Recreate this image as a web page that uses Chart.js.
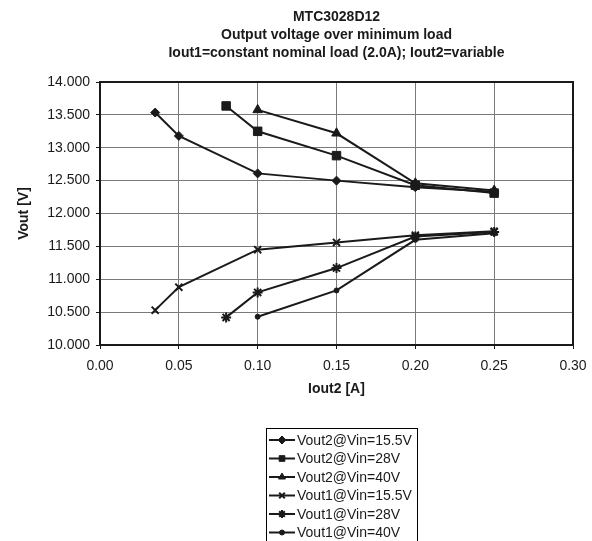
<!DOCTYPE html>
<html>
<head>
<meta charset="utf-8">
<script src="https://cdn.jsdelivr.net/npm/chart.js@4"></script>
<style>
  html, body { margin: 0; padding: 0; background: #fff; }
  #wrap { width: 592px; height: 541px; position: relative; }
</style>
</head>
<body>
<div id="wrap"><canvas id="chart"></canvas></div>
<script>
const titleLines = [
  "MTC3028D12",
  "Output voltage over minimum load",
  "Iout1=constant nominal load (2.0A); Iout2=variable",
];
const xTitle = "Iout2 [A]";
const yTitle = "Vout [V]";

const seriesLabels = [
  "Vout2@Vin=15.5V",
  "Vout2@Vin=28V",
  "Vout2@Vin=40V",
  "Vout1@Vin=15.5V",
  "Vout1@Vin=28V",
  "Vout1@Vin=40V",
];

// Iout2 [A] per series
const iout2 = [
  [0.035, 0.05, 0.10, 0.15, 0.20, 0.25],
  [0.08, 0.10, 0.15, 0.20, 0.25],
  [0.10, 0.15, 0.20, 0.25],
  [0.035, 0.05, 0.10, 0.15, 0.20, 0.25],
  [0.08, 0.10, 0.15, 0.20, 0.25],
  [0.10, 0.15, 0.20, 0.25],
];

// Vout [V] per series
const vout = [
  [13.535, 13.18, 12.61, 12.50, 12.40, 12.33],
  [13.636, 13.25, 12.88, 12.43, 12.31],
  [13.576, 13.22, 12.46, 12.35],
  [10.53, 10.88, 11.45, 11.56, 11.67, 11.73],
  [10.42, 10.80, 11.17, 11.65, 11.72],
  [10.43, 10.83, 11.60, 11.70],
];

const markers = ["rectRot", "rect", "triangle", "crossRot", "star", "circle"];
const markerSizes = [4.5, 6, 5.5, 5, 5, 2.5];

const FONT = "'Liberation Sans', Arial, sans-serif";

const datasets = seriesLabels.map((label, i) => ({
  label,
  data: iout2[i].map((x, j) => ({ x, y: vout[i][j] })),
  showLine: true,
  borderColor: "#1a1a1a",
  backgroundColor: "#1a1a1a",
  borderWidth: 2,
  pointStyle: markers[i],
  pointRadius: markerSizes[i],
  pointBorderWidth: i === 3 || i === 4 ? 2 : 1,
  pointBorderColor: "#1a1a1a",
  pointBackgroundColor: "#1a1a1a",
  tension: 0,
}));

// frame round the plot area (top and right edges too)
const frame = {
  id: "frame",
  beforeDatasetsDraw(chart) {
    const { ctx, chartArea: a } = chart;
    ctx.save();
    ctx.strokeStyle = "#1a1a1a";
    ctx.lineWidth = 2;
    ctx.strokeRect(a.left, a.top, a.right - a.left, a.bottom - a.top);
    ctx.restore();
  },
};

// boxed legend under the chart, line + marker samples
const boxLegend = {
  id: "boxLegend",
  afterDraw(chart) {
    const ctx = chart.ctx;
    const left = 266, top = 428, right = 417, rowH = 18.5;
    ctx.save();
    ctx.strokeStyle = "#000";
    ctx.lineWidth = 1;
    ctx.strokeRect(left + 0.5, top + 0.5, right - left, 130);
    ctx.font = "14px " + FONT;
    ctx.textBaseline = "middle";
    ctx.fillStyle = "#1a1a1a";
    chart.data.datasets.forEach((ds, i) => {
      const y = top + 12 + i * rowH;
      ctx.strokeStyle = ds.borderColor;
      ctx.lineWidth = 2;
      ctx.beginPath();
      ctx.moveTo(269, y);
      ctx.lineTo(295, y);
      ctx.stroke();
      ctx.lineWidth = ds.pointBorderWidth;
      ctx.fillStyle = ds.pointBackgroundColor;
      Chart.helpers.drawPoint(ctx, {
        pointStyle: ds.pointStyle,
        radius: Math.min(ds.pointRadius, 4),
        rotation: 0,
        borderWidth: ds.pointBorderWidth,
      }, 282, y);
      ctx.fillStyle = "#1a1a1a";
      ctx.fillText(ds.label, 297, y + 1);
    });
    ctx.restore();
  },
};

new Chart(document.getElementById("chart"), {
  type: "scatter",
  data: { datasets },
  plugins: [frame, boxLegend],
  options: {
    responsive: true,
    maintainAspectRatio: false,
    animation: false,
    layout: { padding: { left: 0, right: 19, top: 0, bottom: 141 } },
    plugins: {
      legend: { display: false },
      tooltip: { enabled: false },
      title: {
        display: true,
        fullSize: false,
        text: titleLines,
        color: "#1a1a1a",
        font: { family: FONT, size: 14, weight: "bold", lineHeight: 18 / 14 },
        padding: { top: 8, bottom: 20 },
      },
    },
    scales: {
      x: {
        type: "linear",
        min: 0,
        max: 0.3,
        afterFit(scale) {
          scale.height = 55;
          scale.paddingLeft = 0;
          scale.paddingRight = 0;
        },
        ticks: {
          stepSize: 0.05,
          padding: 9,
          color: "#1a1a1a",
          font: { family: FONT, size: 14 },
          callback: (v) => Number(v).toFixed(2),
        },
        grid: { color: "#7a7a7a", lineWidth: 1, tickLength: 4, tickColor: "#1a1a1a" },
        border: { display: true, color: "#1a1a1a", width: 2 },
        title: {
          display: true,
          text: xTitle,
          color: "#1a1a1a",
          font: { family: FONT, size: 14, weight: "bold" },
          padding: { top: 0, bottom: 2 },
        },
      },
      y: {
        type: "linear",
        min: 10,
        max: 14,
        afterFit(scale) { scale.width = 100; },
        ticks: {
          stepSize: 0.5,
          padding: 6,
          color: "#1a1a1a",
          font: { family: FONT, size: 14 },
          callback: (v) => Number(v).toFixed(3),
        },
        grid: { color: "#7a7a7a", lineWidth: 1, tickLength: 4, tickColor: "#1a1a1a" },
        border: { display: true, color: "#1a1a1a", width: 2 },
        title: {
          display: true,
          text: yTitle,
          color: "#1a1a1a",
          font: { family: FONT, size: 14, weight: "bold" },
          padding: { top: 16, bottom: 0 },
        },
      },
    },
  },
});
</script>
</body>
</html>
